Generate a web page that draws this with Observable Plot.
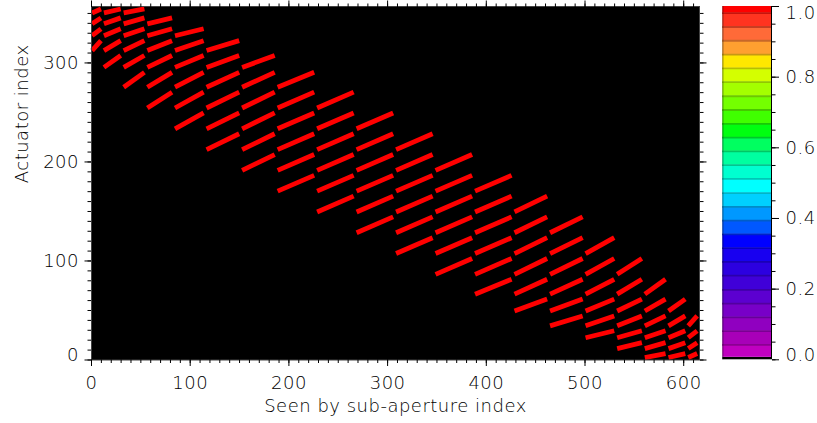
<!DOCTYPE html>
<html><head><meta charset="utf-8">
<script src="https://cdn.jsdelivr.net/npm/d3@7"></script>
<script src="https://cdn.jsdelivr.net/npm/@observablehq/plot@0.6"></script>
<style>
html,body{margin:0;padding:0;background:#fff;}
#chart{position:relative;width:817px;height:423px;overflow:hidden;background:#fff;}
#chart svg{position:absolute;top:0;}
#chart svg text{letter-spacing:0.5px;font-weight:200;}
</style></head><body><div id="chart"></div>
<script>
// Sub-aperture rows: start index of each row along the x axis (last = total)
const subapRowStarts = [0, 12, 32, 56, 84, 116, 152, 188, 228, 268, 308, 348, 388, 428, 464, 500, 532, 560, 584, 604, 616];
// Actuator rows: start index of each row along the y axis (last = total)
const actuatorRowStarts = [0, 9, 20, 32, 47, 64, 84, 105, 126, 147, 168, 189, 210, 231, 252, 273, 293, 310, 325, 337, 348, 357];
// For each sub-aperture row: highest and lowest actuator row that sees it
const colTopRow =    [20, 20, 20, 19, 18, 17, 16, 15, 14, 13, 12, 11, 10, 9, 8, 7, 6, 5, 4, 3];
const colBottomRow = [17, 16, 15, 14, 13, 12, 11, 10, 9, 8, 7, 6, 5, 4, 3, 2, 1, 0, 0, 0];
const cellValue = 1.0;

const xTicks = [0, 100, 200, 300, 400, 500, 600];
const yTicks = [100, 200, 300];
const yTickZero = [0];
const minorStep = 10;

const cbTicksMid = [0.2, 0.4, 0.6, 0.8];
const cbTickTop = [1.0];
const cbTickBottom = [0.0];
const cbMinorStep = 0.05;
const cbLevels = [0, 0.007, 0.042, 0.081, 0.12, 0.159, 0.198, 0.238, 0.277, 0.316, 0.355, 0.394, 0.433, 0.472, 0.512, 0.551, 0.59, 0.629, 0.668, 0.707, 0.746, 0.786, 0.825, 0.864, 0.903, 0.942, 0.981, 1.0];
const cbColors = ["#000000",
  "#c000c0", "#a800b8", "#9000c0", "#7800c8", "#5c00d0", "#4000d8", "#2c00e0", "#1800f0", "#0000ff",
  "#0058ff", "#0098ff", "#00d0ff", "#00ffff", "#00ffd0", "#00ffa0", "#00ff60", "#00ff10",
  "#40ff00", "#74ff00", "#a4ff00", "#d4ff00", "#ffe800", "#ffa030", "#ff6a38", "#ff3420", "#ff0000"];

// segments: one per (sub-aperture row, actuator row) pair
const segments = [];
subapRowStarts.slice(0, -1).forEach((s, j) => {
  for (let r = colBottomRow[j]; r <= colTopRow[j]; r++) {
    segments.push({xa: s, xb: subapRowStarts[j + 1], ya: actuatorRowStarts[r], yb: actuatorRowStarts[r + 1], v: cellValue});
  }
});

const font = "'DejaVu Sans', sans-serif";
const ink = "#000";

const main = Plot.plot({
  width: 817, height: 423,
  marginLeft: 91, marginRight: 118, marginTop: 6, marginBottom: 63.5,
  x: {domain: [0, 616]},
  y: {domain: [0, 357]},
  style: {fontFamily: font, fontSize: "18px", color: ink, background: "transparent", overflow: "visible"},
  marks: [
    Plot.frame({fill: "black", stroke: null}),
    Plot.link(segments, {
      x1: d => d.xa + 0.6, x2: d => d.xb - 2.4,
      y1: d => d.ya + 2.5, y2: d => d.yb - 2.5,
      stroke: "#ff0000", strokeWidth: 4.8, strokeLinecap: "butt"
    }),
    Plot.frame({stroke: "#444", strokeWidth: 1}),
    // minor ticks
    Plot.axisX({anchor: "bottom", ticks: d3.range(0, 617, minorStep), tickSize: 3.5, tickFormat: () => "", label: null}),
    Plot.axisX({anchor: "top", ticks: d3.range(0, 617, minorStep), tickSize: 3.5, tickFormat: () => "", label: null}),
    Plot.axisY({anchor: "left", ticks: d3.range(0, 358, minorStep), tickSize: 3.5, tickFormat: () => "", label: null}),
    Plot.axisY({anchor: "right", ticks: d3.range(0, 358, minorStep), tickSize: 3.5, tickFormat: () => "", label: null}),
    // major ticks
    Plot.axisX({anchor: "bottom", ticks: xTicks, tickSize: 6.5, tickPadding: 10, fontSize: 18, label: null}),
    Plot.axisX({anchor: "top", ticks: xTicks, tickSize: 6.5, tickFormat: () => "", label: null}),
    Plot.axisY({anchor: "left", ticks: yTicks.concat(yTickZero), tickSize: 6.5, tickFormat: () => "", label: null}),
    Plot.axisY({anchor: "right", ticks: yTicks.concat(yTickZero), tickSize: 6.5, tickFormat: () => "", label: null}),
    Plot.axisY({anchor: "left", ticks: yTicks, tickSize: 0, tickPadding: 12.5, fontSize: 18, label: null}),
    Plot.axisY({anchor: "left", ticks: yTickZero, tickSize: 0, tickPadding: 12.5, fontSize: 18, dy: -5, label: null}),
    // titles
    Plot.text(["Seen by sub-aperture index"], {frameAnchor: "bottom", dy: 51.5, fontSize: 18, fill: ink}),
    Plot.text(["Actuator index"], {frameAnchor: "left", dx: -69, rotate: -90, fontSize: 18, fill: ink})
  ]
});
main.style.left = "0px";

const bands = cbColors.map((c, i) => ({lo: cbLevels[i], hi: cbLevels[i + 1], color: c}));
const seps = bands.slice(2).map((b, i) => ({v: b.lo, c: d3.color(d3.interpolateRgb(bands[i + 1].color, b.color)(0.5)).darker(0.7).formatHex()}));

const cb = Plot.plot({
  width: 117, height: 423,
  marginLeft: 22.3, marginRight: 46, marginTop: 6, marginBottom: 63.7,
  x: {domain: [0, 1], axis: null},
  y: {domain: [0, 1]},
  color: {type: "identity"},
  style: {fontFamily: font, fontSize: "18px", color: ink, background: "transparent", overflow: "visible"},
  marks: [
    Plot.rect(bands, {x1: 0, x2: 1, y1: "lo", y2: "hi", fill: "color"}),
    Plot.ruleY(seps, {y: "v", stroke: "c", strokeWidth: 1.8}),
    Plot.ruleX([0], {stroke: "#000", strokeOpacity: 0.3, strokeWidth: 1.5}),
    Plot.ruleX([1], {stroke: ink, strokeWidth: 1}),
    Plot.axisY({anchor: "right", ticks: d3.range(0, 1.0001, cbMinorStep), tickSize: 3.5, tickFormat: () => "", label: null}),
    Plot.axisY({anchor: "right", ticks: cbTicksMid.concat(cbTickTop, cbTickBottom), tickSize: 7, tickFormat: () => "", label: null}),
    Plot.axisY({anchor: "right", ticks: cbTicksMid, tickSize: 0, tickPadding: 14, tickFormat: d3.format(".1f"), fontSize: 18, label: null}),
    Plot.axisY({anchor: "right", ticks: cbTickTop, tickSize: 0, tickPadding: 14, tickFormat: d3.format(".1f"), fontSize: 18, dy: 7, label: null}),
    Plot.axisY({anchor: "right", ticks: cbTickBottom, tickSize: 0, tickPadding: 14, tickFormat: d3.format(".1f"), fontSize: 18, dy: -5, label: null})
  ]
});
cb.style.left = "700px";

const chart = document.getElementById("chart");
chart.appendChild(main);
chart.appendChild(cb);
</script>
</body></html>
